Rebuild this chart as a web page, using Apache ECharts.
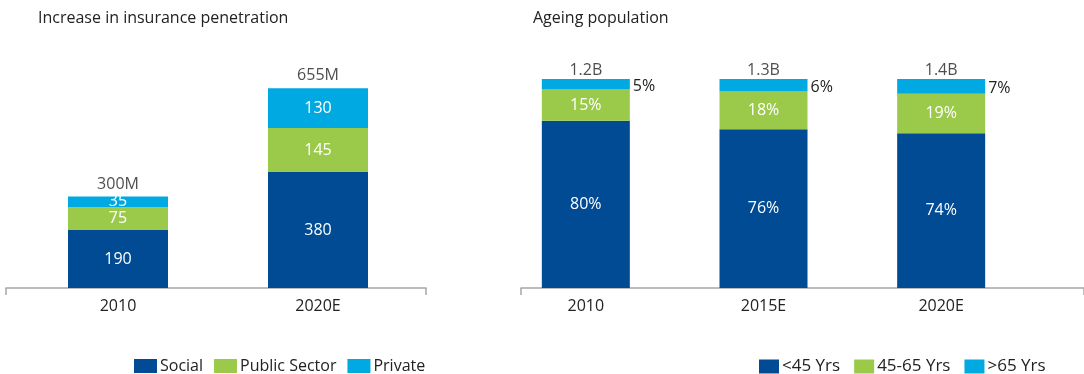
<!DOCTYPE html>
<html>
<head>
<meta charset="utf-8">
<script src="https://cdn.jsdelivr.net/npm/echarts@6/dist/echarts.min.js"></script>
<style>
  html, body { margin: 0; padding: 0; background: #fff; }
  #chart { width: 1084px; height: 374px; }
</style>
</head>
<body>
<div id="chart"></div>
<script>
// Insurance penetration (millions of people)
const insCategories = ['2010', '2020E'];
const insSocial = [190, 380];
const insPublic = [75, 145];
const insPrivate = [35, 130];
const insTotals = ['300M', '655M'];

// Ageing population (share of population, %)
const ageCategories = ['2010', '2015E', '2020E'];
const ageYoung = [80, 76, 74];
const ageMiddle = [15, 18, 19];
const ageOld = [5, 6, 7];
const ageTotals = ['1.2B', '1.3B', '1.4B'];

const C_DARK = '#004B93';
const C_GREEN = '#9BCA4B';
const C_LIGHT = '#00A9E2';
const FONT = '"Open Sans", "Noto Sans", sans-serif';
const TXT = '#222';
const FS = 16;

const sum = (arrs) => arrs[0].map((_, i) => arrs.reduce((s, a) => s + a[i], 0));

function frameAxis(gridIndex) {
  return {
    type: 'value', gridIndex, min: 0, max: 1, interval: 1,
    axisLine: { show: true, lineStyle: { color: '#a6a6a6', width: 1.5 } },
    axisTick: { show: true, length: 7, lineStyle: { color: '#a6a6a6', width: 1.5 } },
    axisLabel: { show: false }, splitLine: { show: false }
  };
}
function hiddenY(gridIndex, max) {
  return {
    type: 'value', gridIndex, min: 0, max,
    axisLine: { show: false }, axisTick: { show: false },
    axisLabel: { show: false }, splitLine: { show: false }
  };
}
function catAxis(gridIndex, data) {
  return {
    type: 'category', gridIndex, data,
    axisLine: { show: false }, axisTick: { show: false },
    axisLabel: { color: TXT, fontSize: FS, fontFamily: FONT, margin: 10 }
  };
}
function stackBar(name, data, color, xi, stack, extraLabel) {
  return {
    name, type: 'bar', data, stack, xAxisIndex: xi, yAxisIndex: xi,
    barWidth: xi === 1 ? 100 : 88,
    itemStyle: { color },
    label: Object.assign({
      show: true, position: 'inside', color: '#fff',
      fontSize: FS, fontFamily: FONT
    }, extraLabel || {})
  };
}
function totalSeries(data, labels, xi, dist) {
  return {
    type: 'scatter', xAxisIndex: xi, yAxisIndex: xi, data,
    symbolSize: 1, itemStyle: { color: 'rgba(0,0,0,0)' }, silent: true,
    label: {
      show: true, position: 'top', distance: dist, color: TXT,
      fontSize: FS, fontFamily: FONT,
      formatter: (p) => labels[p.dataIndex]
    }
  };
}

const chart = echarts.init(document.getElementById('chart'), null, { renderer: 'canvas' });
chart.setOption({
  animation: false,
  backgroundColor: '#fff',
  title: [
    { text: 'Increase in insurance penetration', left: 33, top: 5,
      textStyle: { color: TXT, fontSize: FS, fontWeight: 'normal', fontFamily: FONT } },
    { text: 'Ageing population', left: 528, top: 5,
      textStyle: { color: TXT, fontSize: FS, fontWeight: 'normal', fontFamily: FONT } }
  ],
  legend: [
    { data: ['Social', 'Public Sector', 'Private'], left: 129, top: 353,
      itemWidth: 23, itemHeight: 14, itemGap: 11, icon: 'rect',
      textStyle: { color: TXT, fontSize: FS, fontFamily: FONT, padding: [0, 0, 0, -2] } },
    { data: ['<45 Yrs', '45-65 Yrs', '>65 Yrs'], left: 754, top: 353,
      itemWidth: 20, itemHeight: 14, itemGap: 14, icon: 'rect',
      textStyle: { color: TXT, fontSize: 17, fontFamily: FONT, padding: [0, 0, 0, -2] } }
  ],
  grid: [
    { left: 6, width: 420, top: 44, bottom: 86 },
    { left: 18, width: 400, top: 44, bottom: 86 },
    { left: 521, right: -30, top: 79, bottom: 86 },
    { left: 497, width: 533, top: 79, bottom: 86 }
  ],
  xAxis: [
    frameAxis(0),
    catAxis(1, insCategories),
    frameAxis(2),
    catAxis(3, ageCategories)
  ],
  yAxis: [
    hiddenY(0, 1),
    hiddenY(1, 800),
    hiddenY(2, 1),
    hiddenY(3, 100)
  ],
  series: [
    stackBar('Social', insSocial, C_DARK, 1, 'ins'),
    stackBar('Public Sector', insPublic, C_GREEN, 1, 'ins'),
    stackBar('Private', insPrivate, C_LIGHT, 1, 'ins'),
    totalSeries(sum([insSocial, insPublic, insPrivate]), insTotals, 1, 4),

    stackBar('<45 Yrs', ageYoung, C_DARK, 3, 'age', { formatter: '{c}%' }),
    stackBar('45-65 Yrs', ageMiddle, C_GREEN, 3, 'age', { formatter: '{c}%' }),
    stackBar('>65 Yrs', ageOld, C_LIGHT, 3, 'age',
      { formatter: '{c}%', position: 'right', distance: 3, color: TXT, offset: [0, 2] }),
    totalSeries(sum([ageYoung, ageMiddle, ageOld]), ageTotals, 3, 0)
  ]
});
</script>
</body>
</html>
